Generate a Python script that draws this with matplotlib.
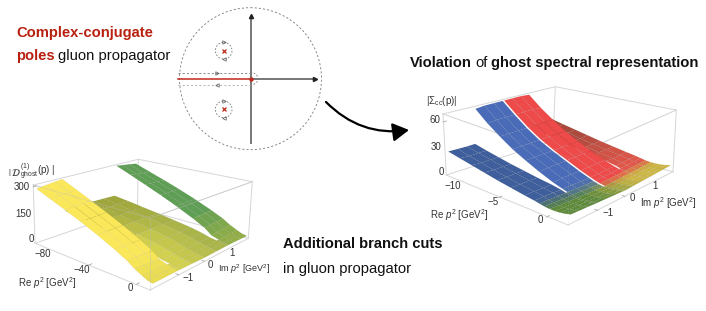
import numpy as np
import matplotlib
matplotlib.use('Agg')
import matplotlib.pyplot as plt
from matplotlib.patches import Circle, FancyArrowPatch
from mpl_toolkits.mplot3d.art3d import Poly3DCollection

plt.rcParams['font.family'] = ['Liberation Sans', 'DejaVu Sans']
plt.rcParams['mathtext.fontset'] = 'custom'
plt.rcParams['mathtext.rm'] = 'Liberation Sans'
plt.rcParams['mathtext.it'] = 'Liberation Sans:italic'
plt.rcParams['mathtext.bf'] = 'Liberation Sans:bold'

W, H = 706, 311

# right panel |Sigma_cc|: values for Im >= 0, mirrored for Im < 0
re_r = [-11.5, -10, -8.5, -7, -5.5, -4, -2.5, -1.5, -1, -0.5, 0, 0.5, 1, 1.5, 2]
im_r = [0.03, 0.33, 0.66, 0.97, 1.03, 1.3, 1.6, 1.9]
z_r = [
    [66, 53, 41, 31, 23, 16, 9, 5, 3, 1.5, 0.5, 0.5, 1, 2, 4],
    [66, 53, 41, 31, 23, 16, 9.5, 5, 3.2, 2, 1, 1, 1.5, 2.5, 4.5],
    [66, 53, 41, 31, 23, 16, 9.5, 5.5, 3.7, 2.5, 1.5, 1.5, 2, 3, 5],
    [65, 52, 41, 31, 23, 15.5, 9, 5.5, 4, 3, 2, 2, 2.5, 3.5, 5.5],
    [24, 20.5, 17.5, 14.5, 12, 9.5, 7.5, 5.5, 4, 3, 2, 2, 2.5, 3.5, 5.5],
    [24, 21, 18, 15, 12.5, 10, 7.5, 6, 4.5, 3.5, 2.5, 2.5, 3, 4, 6],
    [24.5, 21, 18, 15, 12.5, 10, 8, 6.5, 5, 4, 3, 3, 3.5, 4.5, 6.5],
    [25, 22, 19, 16, 13, 10.5, 8, 6.5, 5.5, 4.5, 4, 4, 4.5, 5.5, 7],
]
# left panel |D_ghost|
re_l = [-95, -80, -65, -50, -35, -20, -10, -4, 2, 6, 10]
im_l = [0.0, 0.5, 0.96, 1.04, 1.3, 1.6, 1.9]
z_l = [
    [118, 106, 92, 78, 63, 47, 32, 19, 10, 4, 0],
    [116, 105, 91, 77, 63, 47, 33, 21, 12, 6, 2],
    [113, 102, 89, 76, 62, 47, 33, 21, 15, 8, 3],
    [303, 265, 225, 185, 142, 95, 60, 28, 15, 8, 3],
    [298, 260, 222, 183, 142, 96, 62, 32, 17, 8, 3],
    [292, 255, 220, 182, 142, 97, 64, 36, 18, 8, 2],
    [285, 250, 216, 180, 141, 98, 66, 40, 20, 8, 2],
]

# box limits and where the corners sit in the picture
lim_r = [(-11.5, 2), (-2, 2), (-3, 67)]
lim_l = [(-95, 10), (-2, 2), (-20, 310)]
corners_r = {(0, 0, 0): (446.3, 175), (1, 0, 0): (568, 225), (1, 1, 0): (673, 171.7), (0, 1, 0): (553, 141),
             (0, 0, 1): (443, 114), (1, 0, 1): (568, 158), (1, 1, 1): (676.3, 110), (0, 1, 1): (555.3, 86.7)}
corners_l = {(0, 0, 0): (35, 243.3), (1, 0, 0): (150, 290), (1, 1, 0): (248.3, 238.3), (0, 1, 0): (137.5, 208),
             (0, 0, 1): (33.3, 185), (1, 0, 1): (150, 218.3), (1, 1, 1): (252.3, 181.7), (0, 1, 1): (138.3, 159.3)}

re_ticks_r, im_ticks_r, z_ticks_r = [-10, -5, 0], [-1, 0, 1], [0, 30, 60]
re_ticks_l, im_ticks_l, z_ticks_l = [-80, -40, 0], [-1, 0, 1], [0, 150, 300]

# box edges as pairs of corners: behind the surface, then in front of it
back_edges = [((0, 0, 0), (0, 1, 0)), ((0, 1, 0), (1, 1, 0)), ((0, 1, 0), (0, 1, 1)), ((0, 0, 0), (0, 0, 1)),
              ((1, 1, 0), (1, 1, 1)), ((0, 0, 1), (0, 1, 1)), ((0, 1, 1), (1, 1, 1)), ((0, 0, 0), (1, 0, 0)),
              ((1, 0, 0), (1, 1, 0)), ((0, 0, 1), (1, 0, 1)), ((1, 0, 1), (1, 1, 1))]
front_edges = [((0, 0, 1), (1, 0, 1)), ((1, 0, 1), (1, 1, 1)), ((1, 0, 0), (1, 0, 1))]


def mix(a, b, t):
    return tuple((1 - t) * np.array(matplotlib.colors.to_rgb(a)) + t * np.array(matplotlib.colors.to_rgb(b)))


def colour_r(re, im, high):
    near = mix('#5E8A3A', '#CDB742', np.clip((im + 0.7) / 1.4, 0, 1))
    if im < 0:
        return mix('#4A6CB8' if high else '#3F5F9C', near, np.clip((re + 1.4) / 1.6, 0, 1))
    far = '#EE4A4A' if high else mix('#A94A3C', '#E2574A', np.clip((re + 8) / 7, 0, 1))
    return mix(far, near, np.clip((re + 0.6) / 1.0, 0, 1))


def colour_l(re, im, high):
    t = np.clip((re + 12) / 18, 0, 1)
    if high and im < 0:
        return mix('#FBE85A', '#E9DC50', t)
    if high:
        return mix('#5F9E55', '#93AE45', np.clip((re + 25) / 30, 0, 1))
    side = (im + 1) / 2
    near = mix('#D9D550', '#A3B048', side)
    return mix('#9FA63C', near, np.clip((re + 85) / 60, 0, 1))


def fit_camera(ax, lims, corners):
    # camera matrix from the picture positions of the box corners, solved in the unit cube
    pts = np.array(list(corners.values()), dtype=float)
    pts = (pts - [W / 2, H / 2]) / 200
    rows = []
    for key, (u, v) in zip(corners, pts):
        X = [2 * k - 1 for k in key] + [1]
        rows.append(X + [0, 0, 0, 0] + [-u * c for c in X])
        rows.append([0, 0, 0, 0] + X + [-v * c for c in X])
    P = np.linalg.svd(np.array(rows, dtype=float))[2][-1].reshape(3, 4)
    P = P / P[2, 3]
    # data -> unit cube
    D = np.eye(4)
    for i, (a, b) in enumerate(lims):
        D[i, i] = 2 / (b - a)
        D[i, 3] = -(a + b) / (b - a)
    # normalised picture -> display -> 2d axes coords
    px = np.array([[200, 0, W / 2], [0, -200, H - H / 2], [0, 0, 1]])
    A = ax.transData.inverted().get_matrix()
    Q = A @ px @ P @ D
    # sort depth: the viewer looks from high Re, low Im, above
    depth = np.array([-0.6, 0.6, -0.4, 0.0]) @ D
    return np.array([Q[0], Q[1], depth, Q[2]])


def panel(rect, lims, corners, re, im, z, colour, is_high, ticks, cuts):
    ax = fig.add_axes(rect, projection='3d', computed_zorder=False)
    ax.set_axis_off()
    ax.patch.set_visible(False)
    ax.apply_aspect()
    M = fit_camera(ax, lims, corners)
    ax.get_proj = lambda: M

    z = np.array(z, dtype=float)
    ims = [-v for v in im[::-1]] + list(im)
    zs = np.vstack([z[::-1], z])
    quads, fcs = [], []
    for i in range(len(ims) - 1):
        if ims[i] == ims[i + 1]:
            continue
        for j in range(len(re) - 1):
            # open slits along the cuts, closed again past the end of the cut
            if any(abs(ims[i]) in pair and abs(ims[i + 1]) in pair and re[j + 1] <= end for pair, end in cuts):
                continue
            quads.append([(re[j], ims[i], zs[i, j]), (re[j + 1], ims[i], zs[i, j + 1]),
                          (re[j + 1], ims[i + 1], zs[i + 1, j + 1]), (re[j], ims[i + 1], zs[i + 1, j])])
            mre, mim = (re[j] + re[j + 1]) / 2, (ims[i] + ims[i + 1]) / 2
            fcs.append(colour(mre, mim, is_high(mim)))
    poly = Poly3DCollection(quads, facecolors=fcs, edgecolors=(0, 0, 0, 0.05), linewidths=0.4, zorder=2)
    ax.add_collection3d(poly)

    (x0, x1), (y0, y1), (z0, z1) = lims
    for t in ticks[0]:
        ax.plot([t, t], [y0, y0 + 0.1], [z0, z0], color='#AAAAAA', lw=0.6, zorder=1)
    for t in ticks[1]:
        ax.plot([x1, x1 - (x1 - x0) * 0.02], [t, t], [z0, z0], color='#AAAAAA', lw=0.6, zorder=1)
    for t in ticks[2]:
        ax.plot([x0, x0], [y0, y0 + 0.1], [t, t], color='#AAAAAA', lw=0.6, zorder=1)
    return ax


fig = plt.figure(figsize=(W / 100, H / 100), dpi=100)

under = fig.add_axes([0, 0, 1, 1], zorder=-1)
under.set_xlim(0, W)
under.set_ylim(H, 0)
under.axis('off')
for corners in (corners_r, corners_l):
    for a, b in back_edges:
        under.plot(*zip(corners[a], corners[b]), color='#D6D6D6', lw=0.7)

panel([425 / W, 1 - 265 / H, 265 / W, 265 / H], lim_r, corners_r, re_r, im_r, z_r, colour_r,
      lambda m: abs(m) < 1, (re_ticks_r, im_ticks_r, z_ticks_r),
      [((0.03,), 0), ((0.97, 1.03), -1)])
panel([15 / W, 1 - 300 / H, 250 / W, 250 / H], lim_l, corners_l, re_l, im_l, z_l, colour_l,
      lambda m: abs(m) > 1, (re_ticks_l, im_ticks_l, z_ticks_l),
      [((0.96, 1.04), 2)])

ov = fig.add_axes([0, 0, 1, 1], zorder=5)
ov.set_xlim(0, W)
ov.set_ylim(H, 0)
ov.axis('off')

for corners, alpha in ((corners_r, 0.12), (corners_l, 0.5)):
    for a, b in front_edges:
        ov.plot(*zip(corners[a], corners[b]), color='#BDBDBD', lw=0.5, alpha=alpha)

# pole sketch
cx, cy = 250.5, 78.7
grey = '#777777'
ov.add_patch(Circle((cx, cy), 71, fill=False, ec='#777777', lw=0.6, ls=(0, (2.5, 2.5))))
ov.plot([cx, cx], [143, 17], color=grey, lw=1.4)
ov.plot([cx, 314], [cy, cy], color=grey, lw=1.4)
ov.plot([cx], [16], marker='^', ms=3, color='#222222')
ov.plot([315], [cy], marker='>', ms=3, color='#222222')
ov.plot([177.5, cx], [cy, cy], color='#C0281C', lw=1.1)
ov.plot([cx], [cy], marker='o', ms=2.2, color='#C0281C')
for dy, mk, col in [(-6.2, '>', '#777777'), (6.2, '<', '#AAAAAA')]:
    ov.plot([178, cx], [cy + dy, cy + dy], color=col, lw=0.6, ls=(0, (2.5, 2.5)))
    ov.plot([217], [cy + dy], marker=mk, ms=2.5, mfc='none', mec='#555555', mew=0.5)
theta = np.linspace(-np.pi / 2, np.pi / 2, 20)
ov.plot(cx + 7.5 * np.cos(theta), cy + 6.2 * np.sin(theta), color='#777777', lw=0.6, ls=(0, (2, 2)))
for py in (50.7, 109.3):
    ov.add_patch(Circle((223.7, py), 8.3, fill=False, ec='#777777', lw=0.6, ls=(0, (2, 2))))
    ov.plot([223.7], [py], marker='x', ms=3, mew=0.9, color='#C0281C')
    ov.plot([224], [py - 8.3], marker='>', ms=2.5, mfc='none', mec='#555555', mew=0.5)
    ov.plot([224], [py + 8.3], marker='<', ms=2.5, mfc='none', mec='#555555', mew=0.5)

ov.add_patch(FancyArrowPatch((326, 102), (409, 130), connectionstyle='arc3,rad=0.25',
                             arrowstyle='-|>,head_length=0.7,head_width=0.4', mutation_scale=14,
                             lw=1.6, color='black', shrinkA=0, shrinkB=0))

# headings
red = '#B8200F'
ink = '#111111'
big = dict(fontsize=10.6, va='baseline', ha='left', color=ink)
ov.text(16, 37, 'Complex-conjugate', fontweight='bold', **{**big, 'color': red})
ov.text(16, 60, 'poles', fontweight='bold', **{**big, 'color': red})
ov.text(58, 60, 'gluon propagator', **big)
ov.text(410, 67, 'Violation', fontweight='bold', **big)
ov.text(475, 67, 'of', **big)
ov.text(491, 67, 'ghost spectral representation', fontweight='bold', **big)
ov.text(283, 248, 'Additional branch cuts', fontweight='bold', **big)
ov.text(283, 273, 'in gluon propagator', **big)

# tick labels and axis titles
lab = dict(fontsize=7, color='#333333', ha='center', va='center')
for s, x, y in zip(['\u221210', '\u22125', '0'], [453, 493, 540], [186, 202, 220]):
    ov.text(x, y, s, **lab)
for s, x, y in zip(['\u22121', '0', '1'], [608, 632, 655], [213, 198, 186]):
    ov.text(x, y, s, **lab)
for s, x, y in zip(['0', '30', '60'], [441, 436, 435], [172, 147, 120]):
    ov.text(x, y, s, **lab)
for s, x, y in zip(['\u221280', '\u221240', '0'], [43, 82, 130], [254, 270, 288]):
    ov.text(x, y, s, **lab)
for s, x, y in zip(['\u22121', '0', '1'], [188, 210, 232], [278, 265, 253]):
    ov.text(x, y, s, **lab)
for s, x, y in zip(['0', '150', '300'], [31, 23, 22], [239, 214, 187]):
    ov.text(x, y, s, **lab)
ov.text(430, 215, r'Re $p^2$ [GeV$^2$]', **{**lab, 'ha': 'left'})
ov.text(640, 203, r'Im $p^2$ [GeV$^2$]', **{**lab, 'ha': 'left'})
ov.text(18, 283, r'Re $p^2$ [GeV$^2$]', **{**lab, 'ha': 'left'})
ov.text(218, 269, r'Im $p^2$ [GeV$^2$]', **{**lab, 'ha': 'left', 'fontsize': 6.5})
ov.text(426, 101, r'$|\Sigma_{\mathrm{cc}}(\mathrm{p})|$', **{**lab, 'ha': 'left'})
ov.text(8, 172, r'$|\,\mathcal{D}$', math_fontfamily='stix', **{**lab, 'ha': 'left'})
ov.text(20.5, 172, r'${}^{(1)}_{\mathrm{ghost}}(\mathrm{p})\;|$', **{**lab, 'ha': 'left'})

fig.savefig('out.png', dpi=100)
